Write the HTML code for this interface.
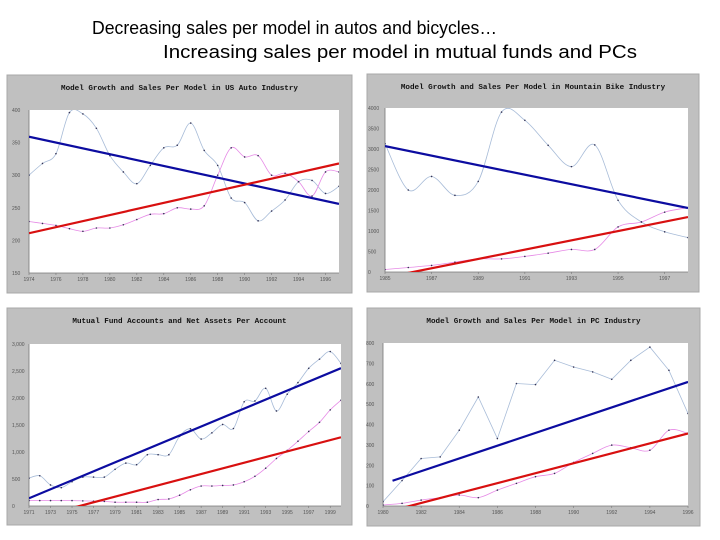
<!DOCTYPE html>
<html><head><meta charset="utf-8"><style>
html,body{margin:0;padding:0;background:#fff;width:720px;height:540px;overflow:hidden}
svg{display:block;font-family:"Liberation Sans",sans-serif}
</style></head><body>
<svg id="root" width="720" height="540" viewBox="0 0 720 540">
<text x="92" y="34" font-size="18" textLength="405" lengthAdjust="spacingAndGlyphs">Decreasing sales per model in autos and bicycles…</text>
<text x="163" y="58" font-size="18" textLength="474" lengthAdjust="spacingAndGlyphs">Increasing sales per model in mutual funds and PCs</text>
</svg>
<script>
// ---- Auto chart data ----
const autoYears = [1974,1975,1976,1977,1978,1979,1980,1981,1982,1983,1984,1985,1986,1987,1988,1989,1990,1991,1992,1993,1994,1995,1996,1997];
const autoModels = [300,318,333,396,394,372,330,305,287,315,342,346,380,338,315,265,258,230,245,262,290,292,272,283];
const autoSales = [229,226,223,218,214,219,219,224,232,240,241,250,248,253,300,342,328,330,300,303,290,268,305,305];
const autoTrendBlue = [359,256];
const autoTrendRed = [211,318];
const autoYTicks = [150,200,250,300,350,400];
const autoXTicks = [1974,1976,1978,1980,1982,1984,1986,1988,1990,1992,1994,1996];
// ---- Bike chart data ----
const bikeYears = [1985,1986,1987,1988,1989,1990,1991,1992,1993,1994,1995,1996,1997,1998];
const bikeModels = [3130,2000,2330,1870,2210,3900,3700,3090,2570,3100,1750,1220,980,840];
const bikeSales = [60,110,160,240,320,320,380,460,550,550,1100,1220,1460,1570];
const bikeTrendBlue = [3070,1560];
const bikeTrendRed = [-136,1340];
const bikeYTicks = [0,500,1000,1500,2000,2500,3000,3500,4000];
const bikeXTicks = [1985,1987,1989,1991,1993,1995,1997];
// ---- Mutual fund chart data ----
const fundYears = [1971,1972,1973,1974,1975,1976,1977,1978,1979,1980,1981,1982,1983,1984,1985,1986,1987,1988,1989,1990,1991,1992,1993,1994,1995,1996,1997,1998,1999,2000];
const fundAccounts = [515,560,390,340,450,535,535,535,680,795,765,950,950,950,1290,1430,1240,1355,1510,1435,1930,1945,2180,1760,2070,2285,2550,2720,2860,2640];
const fundAssets = [100,100,100,100,100,95,90,85,70,70,70,70,120,130,200,300,370,370,380,390,450,550,700,880,1030,1200,1380,1550,1780,1960];
const fundTrendBlue = [143,2553];
const fundTrendRed = [-246,1273];
const fundYTicks = [0,500,1000,1500,2000,2500,3000];
const fundYLabels = ["0","500","1,000","1,500","2,000","2,500","3,000"];
const fundXTicks = [1971,1973,1975,1977,1979,1981,1983,1985,1987,1989,1991,1993,1995,1997,1999];
// ---- PC chart data ----
const pcYears = [1980,1981,1982,1983,1984,1985,1986,1987,1988,1989,1990,1991,1992,1993,1994,1995,1996];
const pcModels = [21,125,233,241,372,535,331,601,596,715,682,658,622,715,780,666,454];
const pcSales = [5,13,29,41,54,41,78,111,144,160,214,258,299,286,274,372,356];
const pcTrendBlue = [124,609];
const pcTrendRed = [-34,356];
const pcTrendBlueStart = 1980.5;
const pcYTicks = [0,100,200,300,400,500,600,700,800];
const pcXTicks = [1980,1982,1984,1986,1988,1990,1992,1994,1996];

const NS='http://www.w3.org/2000/svg';
const root=document.getElementById('root');
function mk(tag,attrs,parent){const e=document.createElementNS(NS,tag);for(const k in attrs)e.setAttribute(k,attrs[k]);(parent||root).appendChild(e);return e;}
function smoothPath(pts){
  let d='M'+pts[0][0].toFixed(1)+','+pts[0][1].toFixed(1);
  for(let i=0;i<pts.length-1;i++){
    const p0=pts[i-1]||pts[i],p1=pts[i],p2=pts[i+1],p3=pts[i+2]||p2;
    const c1=[p1[0]+(p2[0]-p0[0])/6,p1[1]+(p2[1]-p0[1])/6];
    const c2=[p2[0]-(p3[0]-p1[0])/6,p2[1]-(p3[1]-p1[1])/6];
    d+='C'+c1[0].toFixed(1)+','+c1[1].toFixed(1)+' '+c2[0].toFixed(1)+','+c2[1].toFixed(1)+' '+p2[0].toFixed(1)+','+p2[1].toFixed(1);
  }
  return d;
}
let clipId=0;
function chart(o){
  const g=mk('g',{});
  
  
  const panel=mk('rect',{x:o.px,y:o.py,width:o.pw,height:o.ph,fill:'#c0c0c0',stroke:'#a8a8a8'},g);
  
  
  const t=mk('text',{x:o.px+o.pw/2,y:o.py+15,'text-anchor':'middle','font-size':7.6,'font-weight':'bold','font-family':'"Liberation Mono",monospace',fill:'#111'},g);
  t.textContent=o.title;
  
  
  const pa=mk('rect',{x:o.x0,y:o.y0,width:o.x1-o.x0,height:o.y1-o.y0,fill:'#fff'},g);
  
  
  const xs=v=>o.x0+(v-o.xmin)/(o.xmax-o.xmin)*(o.x1-o.x0);
  const ys=v=>o.y1-(v-o.ymin)/(o.ymax-o.ymin)*(o.y1-o.y0);
  mk('line',{x1:o.x0,y1:o.y1,x2:o.x1,y2:o.y1,stroke:'#777','stroke-width':0.8},g);
  mk('line',{x1:o.x0,y1:o.y0,x2:o.x0,y2:o.y1,stroke:'#777','stroke-width':0.8},g);
  o.yt.forEach((v,i)=>{
    const l=mk('text',{x:o.x0-17,y:ys(v)+2,'font-size':5,fill:'#555'},g);
    l.textContent=o.yl?o.yl[i]:String(v);
    
    
  });
  o.xt.forEach(v=>{
    const l=mk('text',{x:xs(v),y:o.y1+8,'font-size':5,fill:'#555','text-anchor':'middle'},g);
    l.textContent=String(v);
    
    
    mk('line',{x1:xs(v),y1:o.y1,x2:xs(v),y2:o.y1+2,stroke:'#777','stroke-width':0.6},g);
  });
  const cid='c'+(clipId++);
  const cp=mk('clipPath',{id:cid},g);mk('rect',{x:o.x0,y:o.y0,width:o.x1-o.x0,height:o.y1-o.y0},cp);
  const cg=mk('g',{'clip-path':'url(#'+cid+')'},g);
  function series(vals,color,name,smooth){
    const pts=vals.map((v,i)=>[xs(o.years[i]),ys(v)]);
    const d=smooth?smoothPath(pts):pts.map((p,i)=>(i?'L':'M')+p[0].toFixed(1)+','+p[1].toFixed(1)).join('');
    const p=mk('path',{d:d,fill:'none',stroke:color,'stroke-width':0.8},cg);
    
    
    pts.forEach(pt=>{
      const c=mk('circle',{cx:pt[0],cy:pt[1],r:0.8,fill:'#335'},cg);
      
      
    });
  }
  series(o.s1,'#a8bcd8',o.s1name,!o.s1straight);
  series(o.s2,'#e68ae6',o.s2name,true);
  const xa=o.years[0], xb=o.years[o.years.length-1];
  const bl=mk('line',{x1:xs(o.bStart||xa),y1:ys(o.tb[0]),x2:xs(xb),y2:ys(o.tb[1]),stroke:'#0c0ca0','stroke-width':2.2},cg);
  
  
  const rl=mk('line',{x1:xs(xa),y1:ys(o.tr[0]),x2:xs(xb),y2:ys(o.tr[1]),stroke:'#d81010','stroke-width':2.2},cg);
  
  
}
chart({name:'auto-chart',title:'Model Growth and Sales Per Model in US Auto Industry',px:7,py:75,pw:345,ph:218,x0:29,x1:339,y0:110,y1:273,xmin:1974,xmax:1997,ymin:150,ymax:400,
 years:autoYears,s1:autoModels,s2:autoSales,s1name:'auto-models-line',s2name:'auto-sales-line',tb:autoTrendBlue,tr:autoTrendRed,yt:autoYTicks,xt:autoXTicks});
chart({name:'bike-chart',title:'Model Growth and Sales Per Model in Mountain Bike Industry',px:367,py:74,pw:332,ph:218,x0:385,x1:688,y0:108,y1:272,xmin:1985,xmax:1998,ymin:0,ymax:4000,
 years:bikeYears,s1:bikeModels,s2:bikeSales,s1name:'bike-models-line',s2name:'bike-sales-line',tb:bikeTrendBlue,tr:bikeTrendRed,yt:bikeYTicks,xt:bikeXTicks});
chart({name:'fund-chart',title:'Mutual Fund Accounts and Net Assets Per Account',px:7,py:308,pw:345,ph:217,x0:29,x1:341,y0:344,y1:506,xmin:1971,xmax:2000,ymin:0,ymax:3000,
 years:fundYears,s1:fundAccounts,s2:fundAssets,s1name:'fund-accounts-line',s2name:'fund-assets-line',tb:fundTrendBlue,tr:fundTrendRed,yt:fundYTicks,yl:fundYLabels,xt:fundXTicks});
chart({name:'pc-chart',title:'Model Growth and Sales Per Model in PC Industry',px:367,py:308,pw:333,ph:218,x0:383,x1:688,y0:343,y1:506,xmin:1980,xmax:1996,ymin:0,ymax:800,
 years:pcYears,s1:pcModels,s2:pcSales,s1name:'pc-models-line',s2name:'pc-sales-line',s1straight:true,tb:pcTrendBlue,tr:pcTrendRed,bStart:pcTrendBlueStart,yt:pcYTicks,xt:pcXTicks});
</script>
</body></html>
